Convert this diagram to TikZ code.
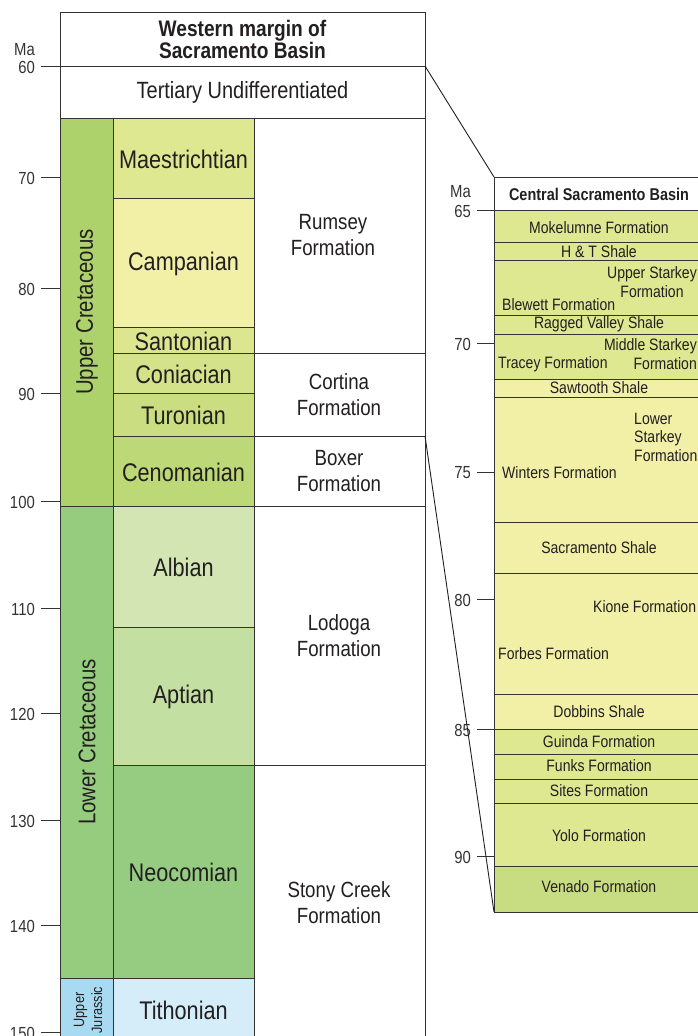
\documentclass[tikz,border=0pt]{standalone}
\usepackage{fontspec}
\setmainfont{Liberation Sans}[FakeStretch=0.85]
\usepackage{xcolor}
\definecolor{lineGray}{HTML}{333333}
\definecolor{inkDark}{HTML}{231F20}
\definecolor{upperCret}{HTML}{ADD26C}
\definecolor{lowerCret}{HTML}{96CC7E}
\definecolor{upperJur}{HTML}{A8DBF2}
\definecolor{maesCol}{HTML}{DEE891}
\definecolor{campCol}{HTML}{F2F0A6}
\definecolor{santCol}{HTML}{DCE68E}
\definecolor{coniCol}{HTML}{D4E289}
\definecolor{turoCol}{HTML}{CADD80}
\definecolor{cenoCol}{HTML}{BDD877}
\definecolor{albCol}{HTML}{D2E5B2}
\definecolor{aptCol}{HTML}{C3DFA2}
\definecolor{neoCol}{HTML}{96CB82}
\definecolor{tithCol}{HTML}{D5EDF9}
\definecolor{csbLight}{HTML}{DEE891}
\definecolor{csbPale}{HTML}{F2F0A6}
\definecolor{csbGreen}{HTML}{C8DC82}
\usepackage{tikz}

\tikzset{
  cell/.style={draw=lineGray, line width=0.9pt},
  tickline/.style={draw=lineGray, line width=0.9pt},
  ticklbl/.style={anchor=east, inner sep=0pt, text=lineGray, font=\fontsize{17.5}{17.5}\selectfont},
  stage/.style={inner sep=0pt, text=inkDark, font=\fontsize{25.5}{26}\selectfont},
  period/.style={rotate=90, inner sep=0pt, text=inkDark, font=\fontsize{24}{24}\selectfont},
  fmn/.style={inner sep=0pt, align=center, text=inkDark, font=\fontsize{22}{26}\selectfont},
  csb/.style={inner sep=0pt, text=inkDark, font=\fontsize{16.5}{18.5}\selectfont},
}

\begin{document}
\begin{tikzpicture}[x=1pt, y=-1pt]
  \useasboundingbox (0,0) rectangle (697,1036);
  % ------- western margin: header and Tertiary -------
  \filldraw[cell, fill=white] (60,12) rectangle (425,66);
  \node[inner sep=0pt, align=center, text=inkDark, font=\bfseries\fontsize{22.5}{22}\selectfont]
    (whead) at (242.5,39) {Western margin of\\Sacramento Basin};
  \filldraw[cell, fill=white] (60,66) rectangle (425,118);
  \node[inner sep=0pt, text=inkDark, font=\fontsize{23.5}{23.5}\selectfont]
    (tert) at (242.5,92) {Tertiary Undifferentiated};
  % ------- periods -------
  \filldraw[cell, fill=upperCret] (60,118) rectangle (113,506);
  \node[period] (ucret) at (87,312) {Upper Cretaceous};
  \filldraw[cell, fill=lowerCret] (60,506) rectangle (113,978);
  \node[period] (lcret) at (87,742) {Lower Cretaceous};
  \filldraw[cell, fill=upperJur] (60,978) rectangle (113,1040);
  \node[period, align=center, font=\fontsize{15}{18}\selectfont] (ujur) at (88,1010) {Upper\\Jurassic};
  % ------- stages -------
  \foreach \ytop/\ybot/\col/\lbl in {118/198/maesCol/Maestrichtian, 198/327/campCol/Campanian,
      327/353/santCol/Santonian, 353/393/coniCol/Coniacian, 393/436/turoCol/Turonian,
      436/506/cenoCol/Cenomanian, 506/627/albCol/Albian, 627/765/aptCol/Aptian,
      765/978/neoCol/Neocomian, 978/1040/tithCol/Tithonian} {
    \filldraw[cell, fill=\col] (113,\ytop) rectangle (254,\ybot);
    \node[stage] (\lbl) at (183.5,{(\ytop+\ybot)/2+1}) {\lbl};
  }
  % ------- formations -------
  \foreach \ytop/\ybot/\xc/\nm/\lbl in {118/353/333/rumsey/{Rumsey\\Formation},
      353/436/339/cortina/{Cortina\\Formation}, 436/506/339/boxer/{Boxer\\Formation},
      506/765/339/lodoga/{Lodoga\\Formation}, 765/1040/339/stony/{Stony Creek\\Formation}} {
    \filldraw[cell, fill=white] (254,\ytop) rectangle (425,\ybot);
    \node[fmn] (\nm) at (\xc,{(\ytop+\ybot)/2}) {\lbl};
  }
  % ------- Ma scale, western margin -------
  \node[ticklbl] (wma) at (35,50) {Ma};
  \foreach \ma/\yy in {60/66, 70/177, 80/288, 90/393, 100/501, 110/608,
      120/713, 130/820, 140/925, 150/1032} {
    \draw[tickline] (41,\yy) -- (60,\yy);
    \node[ticklbl] (w\ma) at (35,\yy+1) {\ma};
  }
  % ------- central Sacramento Basin column -------
  \filldraw[cell, fill=white] (494,177) rectangle (720,210);
  \node[inner sep=0pt, text=inkDark, font=\bfseries\fontsize{17}{17}\selectfont]
    (chead) at (599,194) {Central Sacramento Basin};
  \foreach \ytop/\ybot/\col in {210/242/csbLight, 242/260/csbLight, 260/315/csbLight,
      315/334/csbLight, 334/379/csbLight, 379/397/csbPale, 397/522/csbPale, 522/573/csbPale,
      573/694/csbPale, 694/729/csbPale, 729/754/csbLight, 754/779/csbLight, 779/803/csbLight,
      803/866/csbLight, 866/912/csbGreen} {
    \filldraw[cell, fill=\col] (494,\ytop) rectangle (720,\ybot);
  }
  \node[csb] (moke) at (599,228) {Mokelumne Formation};
  \node[csb] (ht) at (599,252) {H \& T Shale};
  \node[csb, align=center] (ustark) at (652,282) {Upper Starkey\\Formation};
  \node[csb, anchor=west] (blew) at (502,305) {Blewett Formation};
  \node[csb] (ragged) at (599,324) {Ragged Valley Shale};
  \node[csb, align=right, anchor=east] (mstark) at (697,354) {Middle Starkey\\Formation};
  \node[csb, anchor=west] (tracey) at (498,364) {Tracey Formation};
  \node[csb] (saw) at (599,388) {Sawtooth Shale};
  \node[csb, align=left, anchor=west] (lstark) at (634,437) {Lower\\Starkey\\Formation};
  \node[csb, anchor=west] (winters) at (502,473) {Winters Formation};
  \node[csb] (sacsh) at (599,548) {Sacramento Shale};
  \node[csb, anchor=west] (kione) at (593,607) {Kione Formation};
  \node[csb, anchor=west] (forbes) at (498,654) {Forbes Formation};
  \node[csb] (dobbins) at (599,712) {Dobbins Shale};
  \node[csb] (guinda) at (599,742) {Guinda Formation};
  \node[csb] (funks) at (599,766) {Funks Formation};
  \node[csb] (sites) at (599,791) {Sites Formation};
  \node[csb] (yolo) at (599,836) {Yolo Formation};
  \node[csb] (venado) at (599,887) {Venado Formation};
  % ------- Ma scale, central basin -------
  \node[ticklbl] (cma) at (471,192) {Ma};
  \foreach \ma/\yy in {65/210, 70/343, 75/472, 80/599, 85/729, 90/856} {
    \draw[tickline] (477,\yy) -- (494,\yy);
    \node[ticklbl] (c\ma) at (471,\yy+1) {\ma};
  }
  % ------- tie lines between the columns -------
  \coordinate (wtop) at (425,66);
  \coordinate (ctop) at (494,177);
  \coordinate (wbot) at (425,436);
  \coordinate (cbot) at (494,912);
  \draw[draw=inkDark, line width=0.9pt] (wtop) -- (ctop);
  \draw[draw=inkDark, line width=0.9pt] (wbot) -- (cbot);
\end{tikzpicture}
\end{document}
